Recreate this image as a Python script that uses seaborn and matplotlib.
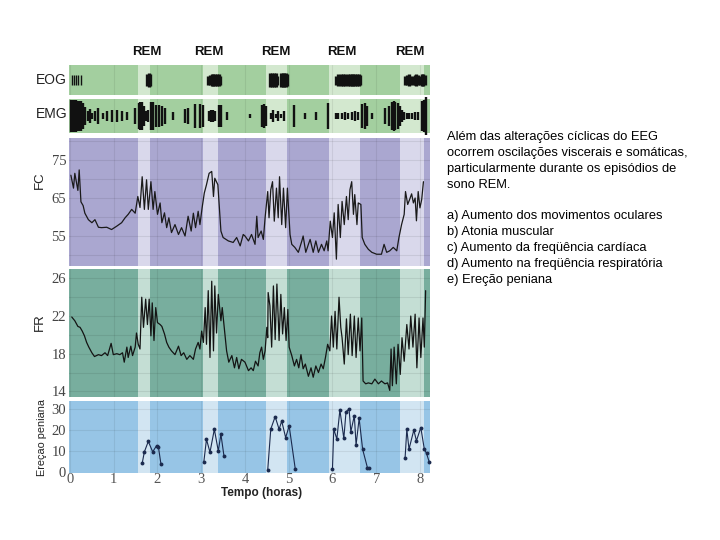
import pandas as pd
import matplotlib.pyplot as plt
import matplotlib.transforms as mtransforms
import seaborn as sns

# REM episodes (hours)
rem_start = [1.55, 3.03, 4.48, 5.93, 7.54]
rem_end = [1.83, 3.38, 4.96, 6.63, 8.09]
rem_lbl_t = [1.76, 3.18, 4.71, 6.22, 7.77]

# EOG bursts
eog_tick_t = [0.04, 0.09, 0.14, 0.19, 0.24]
eog_tick_h = [0.35, 0.35, 0.35, 0.35, 0.35]
eog_rem_t = [1.76, 1.80, 1.84,
             3.16, 3.20, 3.24, 3.28, 3.32, 3.36, 3.40, 3.44,
             4.58, 4.62, 4.66, 4.70, 4.74, 4.82, 4.86, 4.90, 4.94, 4.97,
             6.08, 6.12, 6.16, 6.20, 6.24, 6.28, 6.32, 6.36, 6.40, 6.44, 6.48, 6.52, 6.56, 6.60, 6.64,
             7.66, 7.70, 7.74, 7.78, 7.84, 7.88, 7.92, 7.96, 8.00, 8.04, 8.08, 8.12]
eog_rem_h = [0.42, 0.45, 0.42,
             0.3, 0.35, 0.4, 0.42, 0.4, 0.42, 0.38, 0.3,
             0.45, 0.48, 0.48, 0.45, 0.3, 0.45, 0.48, 0.48, 0.45, 0.42,
             0.3, 0.38, 0.3, 0.4, 0.42, 0.38, 0.3, 0.4, 0.42, 0.4, 0.38, 0.42, 0.4, 0.38, 0.35,
             0.3, 0.35, 0.38, 0.3, 0.3, 0.35, 0.38, 0.35, 0.3, 0.38, 0.38, 0.35]

# EMG bursts
emg_t = [0.02, 0.05, 0.08, 0.11, 0.14, 0.17, 0.20, 0.24, 0.29, 0.34, 0.40, 0.45, 0.50, 0.56,
         0.65, 0.76, 0.85, 0.95, 1.07, 1.18, 1.30, 1.49, 1.57, 1.61, 1.65, 1.69, 1.73, 1.78,
         1.86, 1.90, 1.97, 2.03, 2.10, 2.17, 2.36, 2.63, 2.70, 2.85, 2.97, 3.03, 3.18, 3.22,
         3.27, 3.31, 3.40, 3.45, 3.60, 4.11, 4.40, 4.44, 4.48, 4.59, 4.64, 4.70, 4.76, 4.82,
         4.90, 5.11, 5.37, 5.62, 5.90, 6.07, 6.13, 6.21, 6.29, 6.36, 6.44, 6.51, 6.58, 6.68,
         6.74, 6.80, 6.90, 7.20, 7.29, 7.35, 7.40, 7.44, 7.49, 7.54, 7.58, 7.64, 7.70, 7.75,
         7.81, 7.89, 7.95, 8.05, 8.10, 8.13]
emg_h = [1.0, 1.0, 1.0, 1.0, 1.0, 0.95, 0.95, 0.9, 0.8, 0.55, 0.3, 0.45, 0.2, 0.3,
         0.5, 0.2, 0.3, 0.4, 0.35, 0.3, 0.25, 0.5, 0.8, 0.85, 0.85, 0.6, 0.3, 0.4,
         0.85, 0.85, 0.7, 0.7, 0.6, 0.5, 0.25, 0.45, 0.5, 0.75, 0.75, 0.7, 0.3, 0.35,
         0.35, 0.3, 0.65, 0.7, 0.25, 0.15, 0.7, 0.75, 0.6, 0.2, 0.35, 0.15, 0.3, 0.15,
         0.3, 0.65, 0.2, 0.25, 0.8, 0.2, 0.2, 0.2, 0.25, 0.2, 0.25, 0.3, 0.25, 0.75,
         0.8, 0.6, 0.2, 0.5, 0.6, 0.85, 0.9, 0.85, 0.8, 0.6, 0.35, 0.25, 0.2, 0.2,
         0.2, 0.25, 0.25, 0.9, 1.0, 1.15]

# FC (frequência cardíaca)
fc_t = [0.02, 0.08, 0.11, 0.18, 0.21, 0.25, 0.30, 0.34, 0.42, 0.50, 0.57, 0.65, 0.72, 0.84,
        0.95, 1.07, 1.18, 1.26, 1.33, 1.41, 1.49, 1.55, 1.60, 1.65, 1.70, 1.75, 1.79, 1.85,
        1.90, 1.94, 2.00, 2.06, 2.10, 2.16, 2.21, 2.26, 2.32, 2.40, 2.48, 2.55, 2.63, 2.70,
        2.77, 2.82, 2.87, 2.93, 2.97, 3.02, 3.07, 3.12, 3.18, 3.24, 3.28, 3.31, 3.38, 3.41,
        3.45, 3.50, 3.62, 3.73, 3.81, 3.89, 3.96,
        4.00, 4.08, 4.15, 4.23, 4.27, 4.30, 4.37, 4.42, 4.46, 4.52, 4.55, 4.59, 4.63, 4.67,
        4.72, 4.76, 4.79, 4.84, 4.88, 4.93, 4.97, 5.03, 5.07, 5.14, 5.22, 5.30, 5.33, 5.39,
        5.45, 5.49, 5.56, 5.62, 5.68, 5.75, 5.81, 5.87, 5.90, 5.95, 6.00, 6.04, 6.09, 6.13,
        6.18, 6.22, 6.27, 6.32, 6.36, 6.40, 6.44, 6.48, 6.51, 6.56, 6.59, 6.65, 6.68, 6.74,
        6.82, 6.90, 7.01, 7.12, 7.18, 7.24, 7.31, 7.39, 7.47, 7.52, 7.58, 7.64, 7.67, 7.72,
        7.77, 7.81, 7.85, 7.89, 7.92, 7.96, 8.00, 8.04, 8.08]
fc_v = [71, 67.6, 71.5, 67, 72.4, 64, 63, 61, 59.3, 58.5, 59.3, 57.3, 57.2, 57.3,
        56.7, 57.6, 58.5, 59.8, 60.7, 62, 61, 65.4, 62.5, 70.6, 62, 69.8, 62, 69.3,
        62, 66.7, 60.7, 63.7, 58.5, 61.1, 57.2, 59.8, 55.9, 58.0, 55.4, 57.2, 55, 60.2,
        56.3, 61, 57.2, 61.5, 58, 62.4, 66.3, 68.5, 71.5, 72, 65.4, 70.2, 68.5, 63.3,
        56.3, 54.6, 53.7, 53.3, 54.6, 52.4, 55.4,
        55, 53.7, 55.4, 52.8, 60.2, 54.6, 56.3, 54.1, 59.8, 66.7, 59.8, 67.2, 69.3, 58.9,
        67.6, 59.8, 70.6, 58, 67.6, 57.2, 67.6, 55.4, 52.8, 52, 50.7, 53.7, 55, 50.7,
        52.8, 54.1, 50.7, 53.7, 50.7, 52.8, 51.1, 53.7, 51.1, 58.9, 54.6, 61.1, 48.9, 63.3,
        54.6, 64.1, 58, 65.4, 59.3, 67.2, 69.3, 60.7, 65.9, 58, 63.7, 63.3, 54.6, 52.8,
        51.5, 50.7, 50.2, 50.2, 52.8, 50.7, 51.1, 52, 51.1, 54.6, 58, 60.7, 66.7, 63.3,
        64.8, 66.1, 63.7, 65, 59, 66.7, 62.4, 64.6, 69.3]

# FR (frequência respiratória)
fr_t = [0.04, 0.11, 0.18, 0.23, 0.28, 0.33, 0.38, 0.43, 0.50, 0.56, 0.65, 0.72, 0.80, 0.86,
        0.94, 0.99, 1.07, 1.14, 1.20, 1.24, 1.30, 1.33, 1.39, 1.43, 1.49, 1.52, 1.56, 1.60,
        1.64, 1.68, 1.73, 1.77, 1.81, 1.85, 1.88, 1.92, 1.96, 2.00, 2.06, 2.10, 2.16, 2.21,
        2.26, 2.32, 2.40, 2.48, 2.54, 2.60, 2.67, 2.74, 2.82, 2.87, 2.93, 2.97, 3.01, 3.05,
        3.09, 3.12, 3.16, 3.20, 3.24, 3.28, 3.31, 3.35, 3.39, 3.45, 3.48, 3.53, 3.58, 3.63,
        3.70, 3.76, 3.81, 3.86, 3.92,
        4.00, 4.08, 4.14, 4.19, 4.24, 4.30, 4.34, 4.38, 4.42, 4.46, 4.50, 4.52, 4.53, 4.57,
        4.61, 4.65, 4.69, 4.73, 4.78, 4.82, 4.86, 4.90, 4.94, 4.98, 5.01, 5.07, 5.13, 5.18,
        5.23, 5.28, 5.33, 5.38, 5.45, 5.51, 5.56, 5.62, 5.68, 5.74, 5.79, 5.84, 5.89, 5.94,
        5.98, 6.02, 6.06, 6.10, 6.15, 6.19, 6.22, 6.27, 6.32, 6.36, 6.41, 6.45, 6.50, 6.54,
        6.59, 6.63, 6.67, 6.70, 6.76, 6.82, 6.90, 6.97, 7.05, 7.12, 7.20, 7.26, 7.31, 7.34,
        7.37, 7.41, 7.46, 7.50, 7.55, 7.59, 7.64, 7.70, 7.75, 7.79, 7.84, 7.89, 7.93, 7.98,
        8.02, 8.07, 8.10, 8.13]
fr_v = [21.9, 21.5, 20.9, 20.8, 20.4, 19.9, 19.2, 18.7, 18.1, 17.7, 17.9, 17.8, 18.1, 17.8,
        19.1, 17.9, 18.0, 17.9, 18.1, 17.1, 18.7, 17.6, 18.8, 17.8, 18.7, 20.2, 19.0, 18.5,
        24.0, 20.8, 23.8, 21.1, 23.8, 19.9, 23.4, 19.4, 22.9, 21.3, 21.1, 20.9, 20.1, 19.2,
        18.7, 18.3, 17.9, 18.8, 17.8, 18.1, 17.4, 17.8, 17.4, 18.5, 19.2, 18.5, 20.4, 19.2,
        22.9, 19.0, 24.7, 17.6, 25.7, 18.3, 25.2, 20.2, 24.3, 21.5, 22.9, 20.6, 18.3, 17.1,
        17.8, 16.5, 17.6, 16.4, 17.4,
        17.1, 16.2, 16.5, 16.2, 17.2, 16.7, 18.1, 18.7, 17.4, 18.3, 20.8, 19.7, 24.5, 23.1,
        18.7, 25.2, 19.5, 25.4, 19.4, 24.3, 20.1, 22.9, 19.4, 22.7, 18.7, 17.8, 16.7, 17.4,
        16.5, 17.9, 16.4, 16.9, 15.6, 16.5, 15.5, 16.7, 16.0, 16.9, 16.4, 17.6, 19.0, 18.3,
        22.0, 18.7, 22.5, 18.5, 24.0, 20.8, 19.7, 16.9, 21.7, 17.9, 22.2, 17.8, 22.0, 17.6,
        21.8, 18.3, 21.8, 15.1, 14.8, 14.9, 14.8, 15.3, 14.8, 15.1, 14.8, 14.9, 14.1, 18.5,
        14.6, 18.7, 14.8, 19.0, 15.8, 19.7, 17.2, 21.1, 18.5, 22.0, 18.7, 22.2, 16.5, 21.8,
        17.6, 21.8, 18.7, 24.7]

# Ereção peniana
er_t = [1.65, 1.70, 1.79, 1.89, 1.98, 2.02, 2.08,
        3.06, 3.12, 3.20, 3.30, 3.39, 3.45, 3.52,
        4.52, 4.59, 4.69, 4.78, 4.84, 4.93, 5.01, 5.15,
        6.00, 6.03, 6.10, 6.17, 6.26, 6.31, 6.38, 6.42, 6.50, 6.54, 6.61, 6.69, 6.80, 6.84,
        7.66, 7.70, 7.75, 7.86, 7.92, 8.02, 8.10, 8.15, 8.21]
er_v = [4, 9.5, 14.5, 9.5, 12.5, 12, 3.5,
        4.8, 15.5, 9.3, 20.3, 9.9, 17.9, 7.5,
        0.8, 20.4, 26.3, 20.3, 24.2, 16.3, 21.9, 1.3,
        1.3, 20.4, 15.6, 29.5, 15.9, 28.7, 30, 19.1, 26.8, 12.8, 25.5, 10.7, 1.9, 1.9,
        6.4, 20.3, 10.8, 19.9, 14.8, 21.1, 10.8, 8.8, 4.8]
er_ep = [1] * 7 + [2] * 7 + [3] * 8 + [4] * 14 + [5] * 9

hours = [0, 1, 2, 3, 4, 5, 6, 7, 8]

texto = ["Além das alterações cíclicas do EEG",
         "ocorrem oscilações viscerais e somáticas,",
         "particularmente durante os episódios de",
         "sono REM.",
         "",
         "a) Aumento dos movimentos oculares",
         "b) Atonia muscular",
         "c) Aumento da freqüência cardíaca",
         "d) Aumento na freqüência respiratória",
         "e) Ereção peniana"]

sns.set_style("white")
plt.rcParams['font.family'] = ['Liberation Sans', 'DejaVu Sans']

fig = plt.figure(figsize=(7.2, 5.4), dpi=100)
W, H = 720, 540
x0, x1 = 69, 430


def panel(top, bottom):
    return fig.add_axes([x0 / W, 1 - bottom / H, (x1 - x0) / W, (bottom - top) / H])


ax_eog = panel(65, 95)
ax_emg = panel(99, 133)
ax_fc = panel(138, 266)
ax_fr = panel(269, 397)
ax_er = panel(401, 473)

cores = {
    'eog': ('#a3cf9f', '#d3e8cf'),
    'emg': ('#a3cf9f', '#d3e8cf'),
    'fc': ('#aaa7d0', '#d9d8eb'),
    'fr': ('#78ae9e', '#c4ded4'),
    'er': ('#97c5e6', '#d2e5f2'),
}
paineis = {'eog': ax_eog, 'emg': ax_emg, 'fc': ax_fc, 'fr': ax_fr, 'er': ax_er}

for nome, ax in paineis.items():
    dark, light = cores[nome]
    ax.set_facecolor(dark)
    for s, e in zip(rem_start, rem_end):
        ax.axvspan(s, e, color=light, lw=0, zorder=0)
    for h in hours:
        ax.axvline(h, color='#000000', alpha=0.07, lw=0.8, zorder=1)
    ax.set_xlim(-0.023, 8.23)
    for sp in ax.spines.values():
        sp.set_visible(False)
    ax.tick_params(length=0)

# EOG
ax_eog.set_ylim(-1, 1)
ax_eog.vlines(eog_tick_t, [-h for h in eog_tick_h], eog_tick_h, color='#111111', lw=1.0, zorder=3)
ax_eog.vlines(eog_rem_t, [-h for h in eog_rem_h], eog_rem_h, color='#111111', lw=2.4, zorder=3)
ax_eog.set_xticks([])
ax_eog.set_yticks([])

# EMG
ax_emg.set_ylim(-1.05, 1.05)
ax_emg.vlines(emg_t, [-h for h in emg_h], emg_h, color='#111111', lw=1.7, zorder=3, clip_on=False)
ax_emg.set_xticks([])
ax_emg.set_yticks([])

# FC
ax_fc.set_ylim(47.1, 80.8)
for g in [50, 55, 60, 65, 70, 75, 80]:
    ax_fc.axhline(g, color='#000000', alpha=0.08, lw=0.8, zorder=1)
sns.lineplot(x=fc_t, y=fc_v, ax=ax_fc, color='#1a1a1a', lw=0.9, sort=False, estimator=None, zorder=3)
ax_fc.set_xticks([])
ax_fc.set_yticks([55, 65, 75])

# FR
ax_fr.set_ylim(13.4, 27.0)
for g in [14, 16, 18, 20, 22, 24, 26]:
    ax_fr.axhline(g, color='#000000', alpha=0.08, lw=0.8, zorder=1)
sns.lineplot(x=fr_t, y=fr_v, ax=ax_fr, color='#141414', lw=0.9, sort=False, estimator=None, zorder=3)
ax_fr.set_xticks([])
ax_fr.set_yticks([14, 18, 22, 26])

# Ereção
df_er = pd.DataFrame({'t': er_t, 'v': er_v, 'ep': er_ep})
ax_er.set_ylim(-0.6, 33.8)
for g in [10, 20, 30]:
    ax_er.axhline(g, color='#000000', alpha=0.07, lw=0.8, zorder=1)
sns.lineplot(data=df_er, x='t', y='v', units='ep', estimator=None, ax=ax_er, color='#1b2a4e',
             lw=0.8, marker='o', markersize=2.8, markeredgewidth=0, zorder=3, clip_on=False)
ax_er.set_yticks([0, 10, 20, 30])
ax_er.set_xticks(hours)

for ax in paineis.values():
    ax.set_xlabel('')
    ax.set_ylabel('')

for ax in [ax_fc, ax_fr, ax_er]:
    ax.tick_params(axis='y', pad=2, labelsize=10.5, labelcolor='#444444')
    for lbl in ax.get_yticklabels():
        lbl.set_family('Liberation Serif')
ax_er.tick_params(axis='x', pad=0, labelsize=10.5, labelcolor='#555555')
for lbl in ax_er.get_xticklabels():
    lbl.set_family('Liberation Serif')

# labels
trans = mtransforms.blended_transform_factory(ax_eog.transData, ax_eog.transAxes)
for t in rem_lbl_t:
    ax_eog.text(t, 1.42, 'REM', transform=trans, ha='center', va='center',
                fontsize=9.5, fontweight='bold', color='#111111')

fig.text(36 / W, 1 - 80 / H, 'EOG', ha='left', va='center', fontsize=10, color='#222222')
fig.text(36 / W, 1 - 114 / H, 'EMG', ha='left', va='center', fontsize=10, color='#222222')
fig.text(40 / W, 1 - 180 / H, 'FC', ha='center', va='center', rotation=90, fontsize=9.5, color='#222222')
fig.text(40 / W, 1 - 322 / H, 'FR', ha='center', va='center', rotation=90, fontsize=9.5, color='#222222')
fig.text(42 / W, 1 - 437 / H, 'Ereçao peniana', ha='center', va='center', rotation=90,
         fontsize=7.8, color='#222222')
fig.text(262 / W, 1 - 493 / H, 'Tempo (horas)', ha='center', va='center', fontsize=8.5,
         fontweight='bold', color='#222222')

# right-hand text
y = 137
for linha in texto:
    fig.text(447 / W, 1 - y / H, linha, ha='left', va='center', fontsize=9.3, color='#000000')
    y += 16 if linha else 15

fig.savefig('out.png', dpi=100)
